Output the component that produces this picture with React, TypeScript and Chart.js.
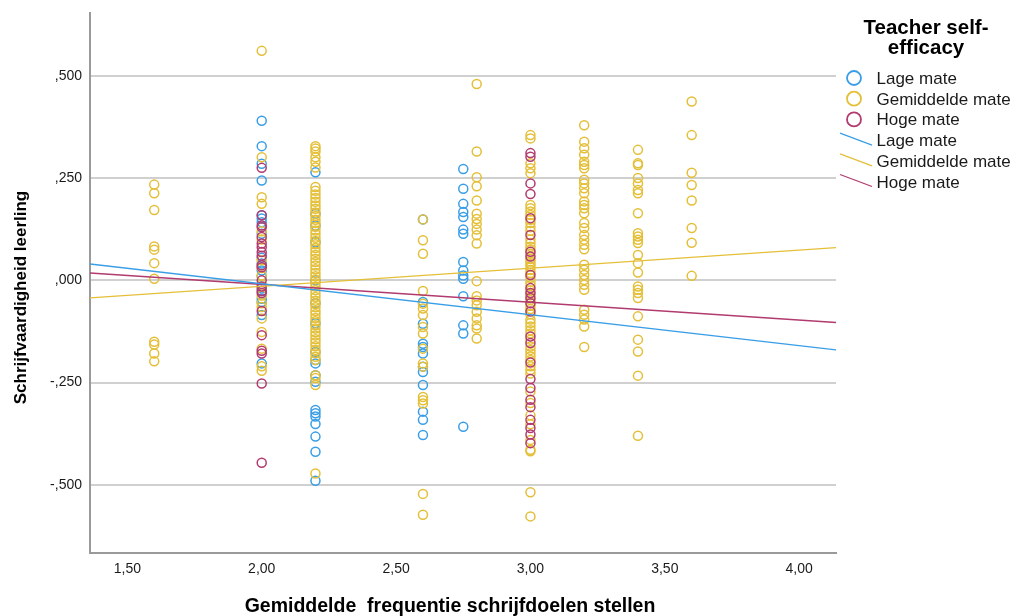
import React, { useEffect, useRef } from "react";
import { Chart, registerables } from "chart.js";

Chart.register(...registerables);

const FONT = '"Liberation Sans", Arial, sans-serif';

const xTitle = "Gemiddelde  frequentie schrijfdoelen stellen";
const yTitle = "Schrijfvaardigheid leerling";
const legendTitle = ["Teacher self-", "efficacy"];
const groupLabels = ["Lage mate", "Gemiddelde mate", "Hoge mate"];
const groupColors = ["#3a9ee6", "#e4bf38", "#b13a6f"];

const xTicks = [1.5, 2.0, 2.5, 3.0, 3.5, 4.0];
const yTicks = [-0.5, -0.25, 0, 0.25, 0.5];
const xRange = [1.361, 4.137];
const yRange = [-0.6665, 0.6535];

// Lage mate (blue)
const lage200 = [0.390, 0.328, 0.285, 0.244, 0.159, 0.151, 0.142, 0.114, 0.055, 0.041, 0.024, 0.010, -0.020, -0.045, -0.053, -0.085, -0.203];
const lage220 = [0.264, 0.163, 0.134, 0.093, 0.000, -0.056, -0.105, -0.175, -0.195, -0.203, -0.232, -0.248, -0.317, -0.325, -0.333, -0.351, -0.382, -0.419, -0.490];
const lage260 = [0.149, -0.053, -0.106, -0.155, -0.163, -0.179, -0.211, -0.224, -0.256, -0.321, -0.341, -0.378];
const lage275 = [0.272, 0.224, 0.187, 0.167, 0.155, 0.124, 0.114, 0.045, 0.024, 0.012, 0.004, -0.039, -0.110, -0.130, -0.358];

// Gemiddelde mate (yellow)
const gem160 = [0.234, 0.213, 0.172, 0.083, 0.075, 0.042, 0.004, -0.150, -0.157, -0.179, -0.198];
const gem200 = [0.561, 0.301, 0.203, 0.187, 0.120, 0.100, 0.049, 0.030, 0.012, -0.010, -0.037, -0.056, -0.065, -0.093, -0.126, -0.167, -0.210, -0.221];
const gem220 = [0.328, 0.322, 0.315, 0.301, 0.290, 0.276, 0.228, 0.219, 0.210, 0.201, 0.192, 0.183, 0.175, 0.166, 0.157, 0.148, 0.140, 0.131, 0.122, 0.113, 0.104, 0.096, 0.088, 0.079, 0.070, 0.062, 0.053, 0.045, 0.036, 0.027, 0.018, 0.010, 0.002, -0.007, -0.015, -0.024, -0.033, -0.041, -0.050, -0.058, -0.066, -0.075, -0.083, -0.092, -0.100, -0.110, -0.118, -0.127, -0.135, -0.144, -0.152, -0.161, -0.170, -0.178, -0.187, -0.195, -0.232, -0.239, -0.256, -0.472];
const gem260 = [0.149, 0.098, 0.065, -0.026, -0.057, -0.069, -0.085, -0.114, -0.130, -0.167, -0.203, -0.211, -0.285, -0.293, -0.301, -0.522, -0.573];
const gem280 = [0.480, 0.315, 0.252, 0.230, 0.195, 0.163, 0.150, 0.138, 0.124, 0.110, 0.090, -0.002, -0.039, -0.049, -0.061, -0.077, -0.093, -0.110, -0.118, -0.142];
const gem300 = [0.355, 0.347, 0.286, 0.274, 0.262, 0.184, 0.176, 0.168, 0.160, 0.148, 0.140, 0.130, 0.121, 0.100, 0.091, 0.082, 0.075, 0.065, 0.052, 0.046, 0.040, 0.034, 0.025, 0.018, 0.006, -0.004, -0.012, -0.025, -0.036, -0.048, -0.062, -0.070, -0.083, -0.096, -0.104, -0.113, -0.122, -0.130, -0.145, -0.162, -0.170, -0.178, -0.186, -0.195, -0.210, -0.219, -0.228, -0.272, -0.300, -0.330, -0.352, -0.390, -0.414, -0.418, -0.518, -0.577];
const gem320 = [0.379, 0.339, 0.323, 0.307, 0.290, 0.282, 0.274, 0.246, 0.237, 0.225, 0.213, 0.193, 0.184, 0.176, 0.164, 0.140, 0.128, 0.111, 0.099, 0.087, 0.076, 0.038, 0.026, 0.013, 0.001, -0.011, -0.023, -0.072, -0.084, -0.096, -0.113, -0.163];
const gem340 = [0.319, 0.286, 0.282, 0.250, 0.237, 0.221, 0.213, 0.164, 0.115, 0.107, 0.099, 0.091, 0.062, 0.042, 0.019, -0.015, -0.023, -0.031, -0.043, -0.088, -0.145, -0.174, -0.233, -0.380];
const gem360 = [0.437, 0.355, 0.263, 0.233, 0.195, 0.128, 0.092, 0.011];

// Hoge mate (magenta)
const hoge200 = [0.275, 0.159, 0.134, 0.130, 0.106, 0.090, 0.081, 0.069, 0.060, 0.037, 0.032, 0.000, -0.015, -0.026, -0.031, -0.075, -0.134, -0.172, -0.179, -0.252, -0.446];
const hoge300 = [0.311, 0.302, 0.237, 0.211, 0.152, 0.111, 0.070, 0.058, 0.013, -0.019, -0.031, -0.043, -0.056, -0.076, -0.137, -0.153, -0.201, -0.241, -0.263, -0.292, -0.310, -0.341, -0.361, -0.377, -0.398];

// Fit lines: value at left and right end of the x range
const lageLine = [0.040, -0.170];
const gemLine = [-0.043, 0.080];
const hogeLine = [0.018, -0.103];

const pts = (x: number, ys: number[]) => ys.map((y) => ({ x, y }));

const lagePoints = [...pts(2.0, lage200), ...pts(2.2, lage220), ...pts(2.6, lage260), ...pts(2.75, lage275)];
const gemPoints = [
  ...pts(1.6, gem160), ...pts(2.0, gem200), ...pts(2.2, gem220), ...pts(2.6, gem260), ...pts(2.8, gem280),
  ...pts(3.0, gem300), ...pts(3.2, gem320), ...pts(3.4, gem340), ...pts(3.6, gem360),
];
const hogePoints = [...pts(2.0, hoge200), ...pts(3.0, hoge300)];

const fitLine = (ends: number[]) => [
  { x: xRange[0], y: ends[0] },
  { x: xRange[1], y: ends[1] },
];

const commaFmt = (v: number, digits: number) => {
  const s = v.toFixed(digits);
  return s.replace(/^(-?)0\./, "$1,").replace(".", ",");
};

const overlayPlugin = {
  id: "overlay",
  afterDraw(chart: any) {
    const ctx: CanvasRenderingContext2D = chart.ctx;
    ctx.save();
    // axis titles
    ctx.fillStyle = "#000";
    ctx.textBaseline = "alphabetic";
    ctx.textAlign = "center";
    ctx.font = `bold 19.5px ${FONT}`;
    ctx.fillText(xTitle, 450, 612);
    ctx.save();
    ctx.translate(26, 297.5);
    ctx.rotate(-Math.PI / 2);
    ctx.font = `bold 17px ${FONT}`;
    ctx.fillText(yTitle, 0, 0);
    ctx.restore();

    // legend
    ctx.font = `bold 20.5px ${FONT}`;
    ctx.fillText(legendTitle[0], 926, 34);
    ctx.fillText(legendTitle[1], 926, 54);
    const baselines = [84, 104.7, 125.4, 146.1, 166.8, 187.5];
    ctx.font = `17px ${FONT}`;
    ctx.textAlign = "left";
    for (let i = 0; i < 3; i++) {
      const b = baselines[i];
      ctx.strokeStyle = groupColors[i];
      ctx.lineWidth = 1.8;
      ctx.beginPath();
      ctx.arc(854, b - 6, 7, 0, Math.PI * 2);
      ctx.stroke();
      ctx.fillStyle = "#1a1a1a";
      ctx.fillText(groupLabels[i], 876.5, b);
    }
    for (let i = 0; i < 3; i++) {
      const b = baselines[i + 3];
      ctx.strokeStyle = groupColors[i];
      ctx.lineWidth = 1.3;
      ctx.beginPath();
      ctx.moveTo(840, b - 13);
      ctx.lineTo(872, b - 1);
      ctx.stroke();
      ctx.fillStyle = "#1a1a1a";
      ctx.fillText(groupLabels[i], 876.5, b);
    }
    ctx.restore();
  },
};

export default function App() {
  const ref = useRef<HTMLCanvasElement>(null);

  useEffect(() => {
    if (!ref.current) return;
    const scatterDs = (label: string, data: any[], color: string, order: number) => ({
      label,
      data,
      showLine: false,
      pointRadius: 4.5,
      pointBorderWidth: 1.5,
      borderColor: color,
      backgroundColor: "transparent",
      pointBackgroundColor: "transparent",
      pointBorderColor: color,
      order,
    });
    const lineDs = (label: string, ends: number[], color: string) => ({
      label,
      data: fitLine(ends),
      showLine: true,
      pointRadius: 0,
      borderColor: color,
      borderWidth: 1.3,
      backgroundColor: "transparent",
      order: 0,
    });
    const chart = new Chart(ref.current, {
      type: "scatter",
      data: {
        datasets: [
          lineDs(groupLabels[0], lageLine, groupColors[0]),
          lineDs(groupLabels[1], gemLine, groupColors[1]),
          lineDs(groupLabels[2], hogeLine, groupColors[2]),
          scatterDs(groupLabels[0], lagePoints, groupColors[0], 3),
          scatterDs(groupLabels[1], gemPoints, groupColors[1], 2),
          scatterDs(groupLabels[2], hogePoints, groupColors[2], 1),
        ] as any,
      },
      options: {
        responsive: false,
        animation: false,
        events: [],
        layout: { padding: { top: 13, right: 178, left: 0, bottom: 0 } },
        plugins: { legend: { display: false }, tooltip: { enabled: false } },
        scales: {
          x: {
            type: "linear",
            min: xRange[0],
            max: xRange[1],
            afterBuildTicks: (scale: any) => {
              scale.ticks = xTicks.map((v) => ({ value: v }));
            },
            afterFit: (scale: any) => {
              scale.height = 63;
              scale.paddingLeft = 0;
              scale.paddingRight = 0;
            },
            grid: { display: false, drawTicks: false },
            border: { display: true, color: "#9a9a9a", width: 2 },
            ticks: {
              callback: (v: any) => commaFmt(Number(v), 2),
              font: { family: FONT, size: 14 },
              color: "#1a1a1a",
              padding: 8,
              maxRotation: 0,
              autoSkip: false,
            },
          },
          y: {
            type: "linear",
            min: yRange[0],
            max: yRange[1],
            afterBuildTicks: (scale: any) => {
              scale.ticks = yTicks.map((v) => ({ value: v }));
            },
            afterFit: (scale: any) => {
              scale.width = 90;
              scale.paddingTop = 0;
              scale.paddingBottom = 0;
            },
            grid: { color: "#d0d0d0", lineWidth: 2, drawTicks: false },
            border: { display: true, color: "#9a9a9a", width: 2 },
            ticks: {
              callback: (v: any) => commaFmt(Number(v), 3),
              font: { family: FONT, size: 14 },
              color: "#1a1a1a",
              padding: 8,
              autoSkip: false,
            },
          },
        },
      },
      plugins: [overlayPlugin],
    } as any);
    return () => chart.destroy();
  }, []);

  return (
    <div style={{ position: "absolute", left: 0, top: 0, width: 1014, height: 616, background: "#fff" }}>
      <canvas ref={ref} width={1014} height={616} style={{ display: "block" }} />
    </div>
  );
}
